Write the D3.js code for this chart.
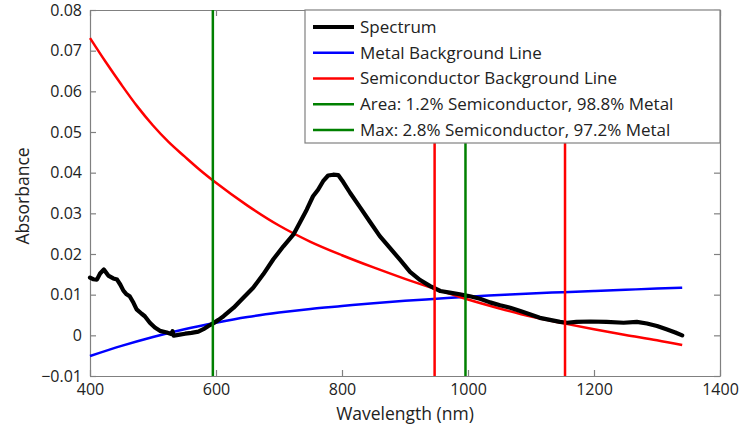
<!DOCTYPE html>
<html>
<head>
<meta charset="utf-8">
<script src="https://cdn.jsdelivr.net/npm/d3@7"></script>
<style>
  html, body { margin: 0; padding: 0; background: #fff; }
  svg { display: block; }
  text { font-family: "Open Sans", "Noto Sans", sans-serif; fill: #222; }
</style>
</head>
<body>
<svg id="chart" width="740" height="427"></svg>
<script>
// Measured absorbance spectrum (wavelength in nm, absorbance)
const spectrumNm = [400, 405, 411, 416, 422, 429, 437, 443, 448, 453, 458, 463, 469, 474, 482, 487, 495, 503, 511, 522, 529, 531, 533, 540, 551, 561, 572, 580, 588, 596, 604, 612, 628, 643, 659, 675, 691, 707, 723, 733, 744, 754, 762, 770, 778, 786, 794, 802, 813, 829, 844, 860, 876, 892, 908, 924, 940, 956, 971, 987, 1003, 1019, 1035, 1051, 1067, 1083, 1098, 1114, 1130, 1146, 1157, 1172, 1194, 1220, 1247, 1268, 1284, 1300, 1315, 1329, 1340];
const spectrumAbs = [0.0142, 0.0138, 0.0137, 0.0152, 0.0162, 0.0147, 0.0140, 0.0137, 0.0125, 0.0110, 0.0101, 0.0096, 0.0080, 0.0064, 0.0053, 0.0047, 0.0031, 0.0019, 0.0011, 0.0007, 0.0003, 0.0010, -0.0001, 0.0001, 0.0004, 0.0006, 0.0009, 0.0015, 0.0023, 0.0030, 0.0038, 0.0047, 0.0068, 0.0092, 0.0117, 0.0150, 0.0187, 0.0219, 0.0248, 0.0277, 0.0309, 0.0342, 0.0358, 0.0379, 0.0393, 0.0395, 0.0394, 0.0377, 0.0350, 0.0314, 0.0280, 0.0244, 0.0215, 0.0186, 0.0156, 0.0136, 0.0121, 0.0109, 0.0105, 0.0101, 0.0096, 0.0090, 0.0081, 0.0074, 0.0068, 0.0060, 0.0052, 0.0043, 0.0038, 0.0033, 0.0031, 0.0033, 0.0034, 0.0033, 0.0031, 0.0033, 0.0029, 0.0023, 0.0015, 0.0007, 0.0000];

// Metal background line
const metalNm = [400, 450, 500, 550, 600, 650, 700, 750, 800, 850, 900, 950, 1000, 1050, 1100, 1150, 1200, 1250, 1300, 1340];
const metalAbs = [-0.0051, -0.0026, -0.0004, 0.0015, 0.0031, 0.0045, 0.0056, 0.0065, 0.0072, 0.0079, 0.0085, 0.0090, 0.0095, 0.0099, 0.0103, 0.0106, 0.0109, 0.0112, 0.0115, 0.0117];

// Semiconductor background line
const semiNm = [400, 425, 450, 475, 500, 525, 550, 575, 600, 650, 700, 750, 800, 850, 900, 950, 1000, 1050, 1100, 1150, 1200, 1250, 1300, 1340];
const semiAbs = [0.0731, 0.0672, 0.0616, 0.0563, 0.0516, 0.0475, 0.0440, 0.0406, 0.0375, 0.0319, 0.0270, 0.0230, 0.0197, 0.0167, 0.0139, 0.0113, 0.0088, 0.0066, 0.0046, 0.0030, 0.0015, 0.0001, -0.0012, -0.0024];

// Vertical marker lines (nm)
const semiMarkers = [947, 1154];
const fitMarkers = [595, 996];

// Axis ticks
const xTicks = [400, 600, 800, 1000, 1200, 1400];
const yTicks = [-0.01, 0, 0.01, 0.02, 0.03, 0.04, 0.05, 0.06, 0.07, 0.08];
const yTickLabels = ["\u22120.01", "0", "0.01", "0.02", "0.03", "0.04", "0.05", "0.06", "0.07", "0.08"];

// Legend entries
const legendLabels = ["Spectrum", "Metal Background Line", "Semiconductor Background Line",
  "Area: 1.2% Semiconductor, 98.8% Metal", "Max: 2.8% Semiconductor, 97.2% Metal"];
const legendColors = ["#000000", "#0000ff", "#ff0000", "#008000", "#008000"];

const svg = d3.select("#chart");
const m = { left: 90, right: 20, top: 10, bottom: 51 };
const W = 740, H = 427;
const x = d3.scaleLinear().domain([400, 1400]).range([m.left, W - m.right]);
const y = d3.scaleLinear().domain([-0.01, 0.08]).range([H - m.bottom, m.top]);

const axisColor = "#808080";
const tickLen = 6;

// Axes box with inward ticks on all four sides
const gx = svg.append("g").attr("transform", `translate(0,${y(-0.01)})`)
  .call(d3.axisBottom(x).tickValues(xTicks).tickSizeInner(-tickLen).tickSizeOuter(0).tickPadding(8).tickFormat(d3.format("d")));
const gxTop = svg.append("g").attr("transform", `translate(0,${y(0.08)})`)
  .call(d3.axisTop(x).tickValues(xTicks).tickSizeInner(-tickLen).tickSizeOuter(0).tickFormat(""));
const gy = svg.append("g").attr("transform", `translate(${x(400)},0)`)
  .call(d3.axisLeft(y).tickValues(yTicks).tickSizeInner(-tickLen).tickSizeOuter(0).tickPadding(8)
    .tickFormat((d, i) => yTickLabels[i]));
const gyRight = svg.append("g").attr("transform", `translate(${x(1400)},0)`)
  .call(d3.axisRight(y).tickValues(yTicks).tickSizeInner(-tickLen).tickSizeOuter(0).tickFormat(""));

[gx, gxTop, gy, gyRight].forEach(g => {
  g.select(".domain").attr("stroke", axisColor).attr("stroke-width", 1.2);
  g.selectAll(".tick line").attr("stroke", axisColor).attr("stroke-width", 1.2);
  g.selectAll(".tick text").attr("font-size", 16).attr("fill", "#222")
    .style("font-family", '"Open Sans", "Noto Sans", sans-serif');
});
gy.selectAll(".tick text").attr("dy", "0.32em");

// Axis titles
svg.append("text").attr("x", (x(400) + x(1400)) / 2).attr("y", 420)
  .attr("text-anchor", "middle").attr("font-size", 17.5).text("Wavelength (nm)");
svg.append("text").attr("transform", `translate(29,${(y(-0.01) + y(0.08)) / 2 + 3}) rotate(-90)`)
  .attr("text-anchor", "middle").attr("font-size", 17.5).text("Absorbance");

const plot = svg.append("g");
const line = d3.line().x(d => x(d[0])).y(d => y(d[1]));
const smooth = d3.line().x(d => x(d[0])).y(d => y(d[1])).curve(d3.curveMonotoneX);

plot.append("path").datum(d3.zip(metalNm, metalAbs))
  .attr("fill", "none").attr("stroke", "#0000ff").attr("stroke-width", 2.5).attr("d", smooth);
plot.append("path").datum(d3.zip(semiNm, semiAbs))
  .attr("fill", "none").attr("stroke", "#ff0000").attr("stroke-width", 2.5).attr("d", smooth);
plot.append("path").datum(d3.zip(spectrumNm, spectrumAbs))
  .attr("fill", "none").attr("stroke", "#000").attr("stroke-width", 4.2)
  .attr("stroke-linejoin", "round").attr("stroke-linecap", "round").attr("d", line);

plot.selectAll("line.semi").data(semiMarkers).join("line").attr("class", "semi")
  .attr("x1", d => x(d)).attr("x2", d => x(d)).attr("y1", y(-0.01)).attr("y2", y(0.08))
  .attr("stroke", "#ff0000").attr("stroke-width", 2.5);
plot.selectAll("line.fit").data(fitMarkers).join("line").attr("class", "fit")
  .attr("x1", d => x(d)).attr("x2", d => x(d)).attr("y1", y(-0.01)).attr("y2", y(0.08))
  .attr("stroke", "#008000").attr("stroke-width", 2.5);

// Legend
const lg = svg.append("g");
const lgX = 305, lgY = y(0.08), lgW = x(1400) - lgX, lgH = 133;
lg.append("rect").attr("x", lgX).attr("y", lgY).attr("width", lgW).attr("height", lgH)
  .attr("fill", "#fff").attr("stroke", axisColor).attr("stroke-width", 1.2);
const rowY = d3.scalePoint().domain(d3.range(legendLabels.length)).range([lgY + 17, lgY + 120]);
legendLabels.forEach((lab, i) => {
  lg.append("line").attr("x1", lgX + 8).attr("x2", lgX + 49)
    .attr("y1", rowY(i)).attr("y2", rowY(i))
    .attr("stroke", legendColors[i]).attr("stroke-width", i === 0 ? 4 : 2.5);
  lg.append("text").attr("x", lgX + 55).attr("y", rowY(i)).attr("dy", "0.35em")
    .attr("font-size", 17).text(lab);
});
</script>
</body>
</html>
